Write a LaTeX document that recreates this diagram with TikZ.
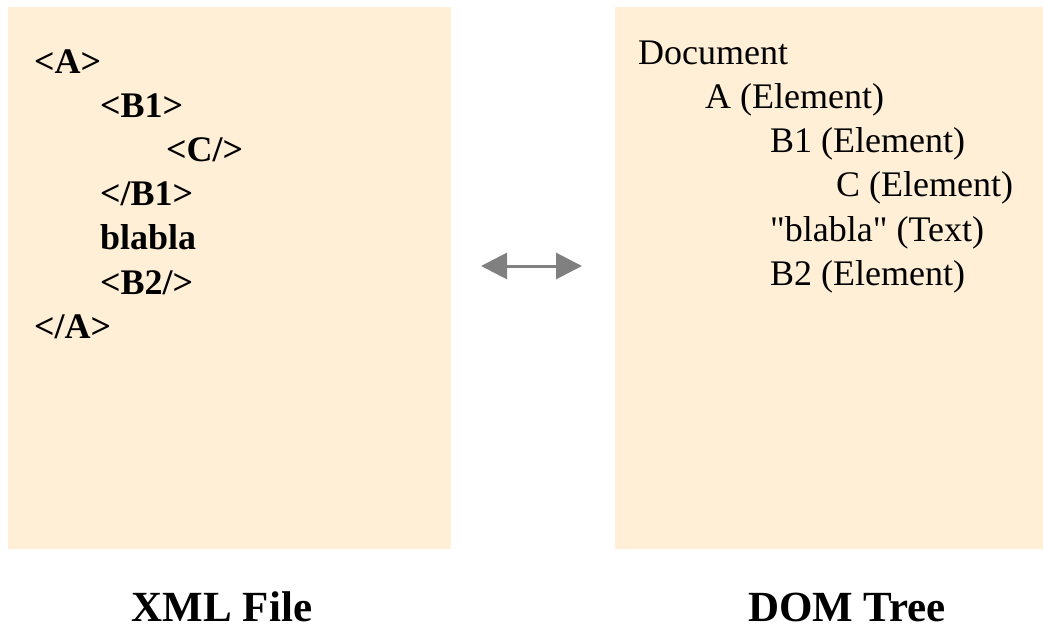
\documentclass[tikz,border=0pt]{standalone}
\usepackage{fontspec}
\setmainfont{Liberation Serif}
\usetikzlibrary{arrows.meta}
\definecolor{boxfill}{RGB}{255,239,214}
\definecolor{arrowgray}{RGB}{128,128,128}
\begin{document}
\begin{tikzpicture}[x=1pt,y=-1pt,
  panel/.style={fill=boxfill,draw=none,inner sep=0pt,outer sep=0pt},
  xmltxt/.style={anchor=base west,inner sep=0pt,font=\fontsize{36}{44}\selectfont\bfseries},
  domtxt/.style={anchor=base west,inner sep=0pt,font=\fontsize{36}{44}\selectfont},
  caption/.style={anchor=base,inner sep=0pt,font=\fontsize{43}{50}\selectfont\bfseries},
  biarrow/.style={draw=arrowgray,line width=3pt,{Triangle[width=26pt,length=26pt]}-{Triangle[width=26pt,length=26pt]}}]
\useasboundingbox (0,0) rectangle (1043,628);
\node[panel,minimum width=443pt,minimum height=542pt,anchor=north west] (xmlbox) at (8,7) {};
\node[panel,minimum width=428pt,minimum height=542pt,anchor=north west] (dombox) at (615,7) {};
% XML text
\node[xmltxt] (x1) at (34,74) {<A>};
\node[xmltxt] (x2) at (100,118) {<B1>};
\node[xmltxt] (x3) at (166,162) {<C/>};
\node[xmltxt] (x4) at (100,206) {</B1>};
\node[xmltxt] (x5) at (100,250) {blabla};
\node[xmltxt] (x6) at (100,294) {<B2/>};
\node[xmltxt] (x7) at (34,338) {</A>};
% DOM text
\node[domtxt] (d1) at (638,65) {Document};
\node[domtxt] (d2) at (705,109) {A (Element)};
\node[domtxt] (d3) at (770,153) {B1 (Element)};
\node[domtxt] (d4) at (836,197) {C (Element)};
\node[domtxt] (d5) at (770,241) {\textquotedbl blabla\textquotedbl{} (Text)};
\node[domtxt] (d6) at (770,285) {B2 (Element)};
% arrow
\coordinate (al) at (481,266);
\coordinate (ar) at (582,266);
\draw[biarrow] (al) -- (ar);
% captions
\node[caption] (cx) at (222,621) {XML File};
\node[caption] (cd) at (847,621) {DOM Tree};
\end{tikzpicture}
\end{document}
